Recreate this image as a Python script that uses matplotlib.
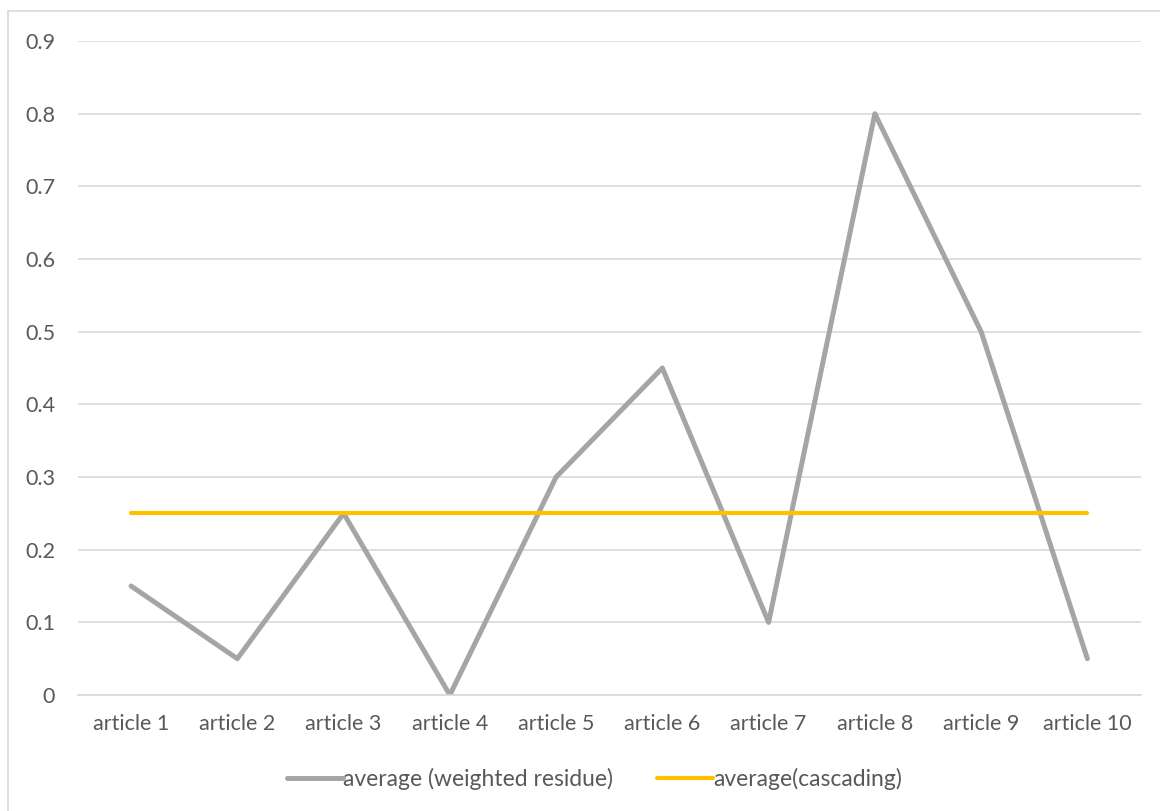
import matplotlib.pyplot as plt
from matplotlib.patches import Rectangle

articles = ['article 1', 'article 2', 'article 3', 'article 4', 'article 5',
            'article 6', 'article 7', 'article 8', 'article 9', 'article 10']
weighted_residue = [0.15, 0.05, 0.25, 0.0, 0.3, 0.45, 0.1, 0.8, 0.5, 0.05]
cascading = [0.25] * 10
y_ticks = [0, 0.1, 0.2, 0.3, 0.4, 0.5, 0.6, 0.7, 0.8, 0.9]

plt.rcParams['font.family'] = ['Lato', 'DejaVu Sans']

fig = plt.figure(figsize=(11.6, 8.11), dpi=100)
ax = fig.add_axes([0.0672, 0.143, 0.916, 0.8064])

# chart border, runs off the right and bottom edges
fig.patches.append(Rectangle((0.0069, -0.05), 1.5, 0.9864 + 0.05,
                             transform=fig.transFigure, fill=False,
                             edgecolor='#d9d9d9', linewidth=1.2))

x = range(len(articles))
ax.plot(x, weighted_residue, color='#a5a5a5', linewidth=3.6,
        solid_capstyle='round', label='average (weighted residue)')
ax.plot(x, cascading, color='#ffc000', linewidth=3.0,
        solid_capstyle='round', label='average(cascading)')

ax.set_xlim(-0.5, len(articles) - 0.5)
ax.set_ylim(0, 0.9)
ax.set_yticks(y_ticks)
ax.set_yticklabels(['0'] + [f'{v:.1f}' for v in y_ticks[1:]])
ax.set_xticks(list(x))
ax.set_xticklabels(articles)
ax.grid(axis='y', color='#d9d9d9', linewidth=1.2)
ax.set_axisbelow(True)
for s in ['top', 'right', 'left']:
    ax.spines[s].set_visible(False)
ax.spines['bottom'].set_color('#d9d9d9')
ax.spines['bottom'].set_linewidth(1.2)
ax.tick_params(length=0, labelsize=15.5, colors='#595959')
ax.tick_params(axis='y', pad=16.5)
ax.tick_params(axis='x', pad=14)

leg = ax.legend(loc='center', bbox_to_anchor=(0.486, -0.128), ncol=2,
                frameon=False, fontsize=16.5, handlelength=2.45,
                handletextpad=0.02, columnspacing=1.9)
for t in leg.get_texts():
    t.set_color('#595959')

fig.savefig('out.png', dpi=100)
